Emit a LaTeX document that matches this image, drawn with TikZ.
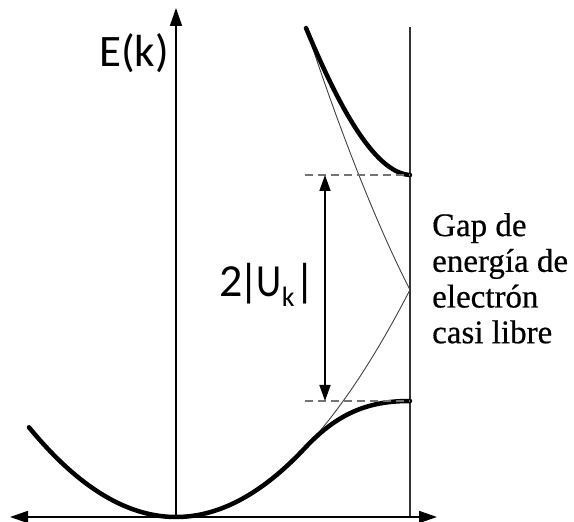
\documentclass[tikz,border=0pt]{standalone}
\usepackage{fontspec}
\usepackage{graphicx}
\setmainfont{Liberation Serif}
\newfontfamily\carlito{Carlito}
\newfontfamily\gapfont[FakeBold=0.5]{Liberation Serif}
\usetikzlibrary{arrows.meta}
\begin{document}
\begin{tikzpicture}[x=1pt,y=1pt,
  axis/.style={line width=1.6pt, black},
  band/.style={line width=4.5pt, black, line cap=round},
  free/.style={line width=0.9pt, black!75},
  gapline/.style={line width=1.2pt, black!55, dash pattern=on 8pt off 5pt},
  axisboth/.style={axis, {Triangle[length=18pt,width=12pt]}-{Triangle[length=18pt,width=12pt]}},
  axisup/.style={axis, -{Triangle[length=18pt,width=12pt]}},
  gaparrow/.style={line width=1.5pt, {Triangle[length=16pt,width=11pt]}-{Triangle[length=16pt,width=11pt]}},
]
\useasboundingbox (0,0) rectangle (574,522);
% coordinates
\coordinate (O) at (176,5);
\coordinate (Ytop) at (176,514);
\coordinate (Xl) at (10,5);
\coordinate (Xr) at (437,5);
\coordinate (Zb) at (410,5);
\coordinate (Zt) at (410,495);
\coordinate (Gt) at (325,347);
\coordinate (Gb) at (325,121);
\coordinate (Dtl) at (305,347);
\coordinate (Dtr) at (410,347);
\coordinate (Dbl) at (305,121);
\coordinate (Dbr) at (410,121);
% zone boundary
\draw[line width=1.2pt, black!80] (Zb) -- (Zt);
% axes
\draw[axisboth] (Xl) -- (Xr);
\draw[axisup] (O) -- (Ytop);
% free electron parabolas
\draw[free] plot[domain=312:410, samples=40] (\x, {5+41.5*((\x-176)/100)*((\x-176)/100)})
  .. controls (382.5,285.3) and (345,375) .. (306,494);
% bands
\draw[band] plot[domain=29:305, samples=80] (\x, {5+41.5*((\x-176)/100)*((\x-176)/100)})
  .. controls (340,111.6) and (372,121) .. (Dbr);
\draw[band] (306,494) .. controls (336,422) and (373,349) .. (Dtr);
% gap lines
\draw[gapline] (Dtl) -- (Dtr);
\draw[gapline] (Dbl) -- (Dbr);
\draw[gaparrow] (Gt) -- (Gb);
% labels
\node[font=\carlito\fontsize{45}{48}\selectfont, anchor=base east, inner sep=0] (Ek) at (169,455) {E(k)};
\node[font=\carlito\fontsize{46}{48}\selectfont, anchor=base west, inner sep=0] (Uk) at (219,225)
  {2\kern-4pt|\kern-3pt\scalebox{0.85}[1]{U}\raisebox{-10pt}{\fontsize{28}{30}\selectfont k}|};
\node[font=\gapfont\fontsize{33}{35.7}\selectfont, align=left, anchor=north west, inner sep=0] (gap) at (432,309) {Gap de\\energía de\\electrón\\casi libre};
\end{tikzpicture}
\end{document}
